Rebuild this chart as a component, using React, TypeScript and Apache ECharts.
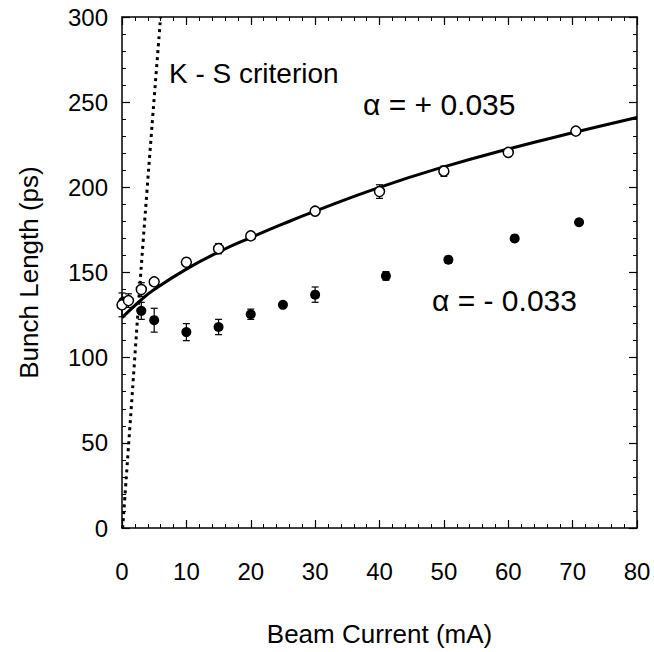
import React, { useEffect, useRef } from "react";
import * as echarts from "echarts";

// Open circles (alpha = +0.035)
const openX = [0, 1, 3, 5, 10, 15, 20, 30, 40, 50, 60, 70.5];
const openY = [131, 133.5, 140, 144.5, 156, 164, 171.5, 186, 197.5, 209.5, 220.5, 233];
const openErr = [7, 4, 4, 2, 2, 3, 2, 1, 4, 3, 2, 0];

// Filled circles (alpha = -0.033)
const filledX = [0.2, 3, 5, 10, 15, 20, 25, 30, 41, 50.7, 61, 71];
const filledY = [133, 127.5, 122, 115, 118, 125.5, 131, 137, 148, 157.5, 170, 179.5];
const filledErr = [0, 5, 7, 5, 4.5, 3, 1.5, 4.5, 2.5, 2, 1.5, 1];

// Fit curve for alpha = +0.035
const fitX = [0, 3, 5, 10, 15, 20, 25, 30, 40, 50, 60, 70, 80];
const fitY = [123.5, 134, 140, 152, 162, 170.5, 178.5, 186, 200, 212, 222.5, 232, 241];

// K - S criterion
const ksX = [0.1, 1.2, 3.3, 6.0];
const ksY = [0, 58, 169, 300];

const xTicks = [0, 10, 20, 30, 40, 50, 60, 70, 80];
const yTicks = [0, 50, 100, 150, 200, 250, 300];

const FONT = "Liberation Sans, Arial, Helvetica, sans-serif";

export default function App() {
  const ref = useRef<HTMLDivElement>(null);
  useEffect(() => {
    document.body.style.margin = "0";
    const chart = echarts.init(ref.current!, null, { renderer: "svg" });
    const pts = (xs: number[], ys: number[]) => xs.map((x, i) => [x, ys[i]]);
    const errData = (xs: number[], ys: number[], es: number[]) => xs.map((x, i) => [x, ys[i], es[i]]);
    const errRender = (params: any, api: any) => {
      const x = api.value(0), y = api.value(1), e = api.value(2);
      if (!e) return null;
      const t = api.coord([x, y + e]);
      const b = api.coord([x, y - e]);
      const c = 3.5;
      const st = { stroke: "#000", lineWidth: 1.2 };
      return {
        type: "group",
        children: [
          { type: "line", shape: { x1: t[0], y1: t[1], x2: b[0], y2: b[1] }, style: st },
          { type: "line", shape: { x1: t[0] - c, y1: t[1], x2: t[0] + c, y2: t[1] }, style: st },
          { type: "line", shape: { x1: b[0] - c, y1: b[1], x2: b[0] + c, y2: b[1] }, style: st },
        ],
      };
    };
    const axisCommon = {
      type: "value" as const,
      axisLine: { show: true, onZero: false, lineStyle: { color: "#000", width: 1.5 } },
      axisTick: { show: true, inside: true, length: 8, lineStyle: { color: "#000", width: 1.2 } },
      minorTick: { show: true, splitNumber: 5, length: 4, lineStyle: { color: "#000", width: 1 } },
      splitLine: { show: false },
    };
    chart.setOption({
      animation: false,
      backgroundColor: "#fff",
      grid: { left: 122, right: 17, top: 17, bottom: 123 },
      xAxis: [
        {
          ...axisCommon,
          min: 0, max: 80, interval: 10,
          position: "bottom",
          name: "Beam Current (mA)",
          nameLocation: "middle",
          nameGap: 93,
          nameTextStyle: { fontFamily: FONT, fontSize: 26, color: "#000" },
          axisLabel: {
            show: true, margin: 31, fontFamily: FONT, fontSize: 24, color: "#000",
            formatter: (v: number) => (xTicks.includes(v) ? String(v) : ""),
          },
        },
        {
          ...axisCommon,
          min: 0, max: 80, interval: 10,
          position: "top",
          axisLabel: { show: false },
        },
      ],
      yAxis: [
        {
          ...axisCommon,
          min: 0, max: 300, interval: 50,
          position: "left",
          name: "Bunch Length (ps)",
          nameLocation: "middle",
          nameGap: 80,
          nameTextStyle: { fontFamily: FONT, fontSize: 26, color: "#000" },
          axisLabel: {
            show: true, margin: 14, fontFamily: FONT, fontSize: 24, color: "#000",
            formatter: (v: number) => (yTicks.includes(v) ? String(v) : ""),
          },
        },
        {
          ...axisCommon,
          min: 0, max: 300, interval: 50,
          position: "right",
          axisLabel: { show: false },
        },
      ],
      series: [
        {
          type: "line",
          data: pts(ksX, ksY),
          smooth: true,
          showSymbol: false,
          lineStyle: { color: "#000", width: 3, type: [3, 4] },
          z: 2,
        },
        {
          type: "line",
          data: pts(fitX, fitY),
          smooth: true,
          showSymbol: false,
          lineStyle: { color: "#000", width: 3 },
          z: 3,
        },
        {
          type: "custom",
          data: errData(filledX, filledY, filledErr),
          renderItem: errRender,
          encode: { x: 0, y: 1 },
          z: 4,
        },
        {
          type: "scatter",
          data: pts(filledX, filledY),
          symbol: "circle",
          symbolSize: 10,
          itemStyle: { color: "#000", opacity: 1 },
          z: 5,
        },
        {
          type: "custom",
          data: errData(openX, openY, openErr),
          renderItem: errRender,
          encode: { x: 0, y: 1 },
          z: 6,
        },
        {
          type: "scatter",
          data: pts(openX, openY),
          symbol: "circle",
          symbolSize: 10,
          itemStyle: { color: "#fff", borderColor: "#000", borderWidth: 1.5, opacity: 1 },
          z: 7,
        },
      ],
      graphic: [
        {
          type: "text", left: 169, top: 59,
          style: { text: "K - S criterion", font: `28px ${FONT}`, fill: "#000" },
        },
        {
          type: "text", left: 363, top: 89,
          style: { text: "α = + 0.035", font: `30px ${FONT}`, fill: "#000" },
        },
        {
          type: "text", left: 432, top: 285,
          style: { text: "α = - 0.033", font: `30px ${FONT}`, fill: "#000" },
        },
      ],
    });
    return () => chart.dispose();
  }, []);
  return <div ref={ref} style={{ width: 654, height: 652 }} />;
}
